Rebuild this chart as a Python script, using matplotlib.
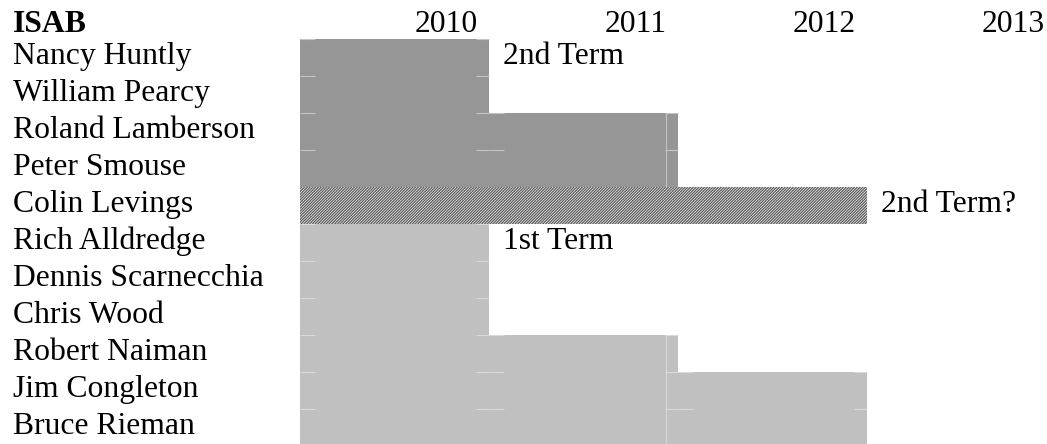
import matplotlib
matplotlib.use("Agg")
import matplotlib.pyplot as plt

plt.rcParams['font.family'] = ['Liberation Serif', 'DejaVu Serif']
plt.rcParams['hatch.linewidth'] = 0.9

title = "ISAB"
years = [2010, 2011, 2012, 2013]
members = ["Nancy Huntly", "William Pearcy", "Roland Lamberson", "Peter Smouse",
           "Colin Levings", "Rich Alldredge", "Dennis Scarnecchia", "Chris Wood",
           "Robert Naiman", "Jim Congleton", "Bruce Rieman"]
term_start = [2010] * 11
term_end = [2011, 2011, 2012, 2012, 2013, 2011, 2011, 2011, 2012, 2013, 2013]
group = ["2nd", "2nd", "2nd", "2nd", "2nd?", "1st", "1st", "1st", "1st", "1st", "1st"]
notes = {0: "2nd Term", 4: "2nd Term?", 5: "1st Term"}

colors = {"2nd": "#969696", "1st": "#C0C0C0"}
seam = {"2nd": "#c4c4c4", "1st": "#dadada"}

W, H = 1047, 444
fig = plt.figure(figsize=(W / 100, H / 100), dpi=100)
ax = fig.add_axes([0, 0, 1, 1])
col_px = 189.0
x0px = 300.0
ax.set_xlim(2010 - x0px / col_px, 2010 + (W - x0px) / col_px)
row_px = 37.0
y0px = 2.0
ax.set_ylim((H - y0px) / row_px, -y0px / row_px)
ax.axis("off")

fs = 22.8
base_off = 25 / row_px     # baseline offset within a row
head_off = 30 / row_px
left_x = 2010 - (x0px - 13) / col_px
px = 1 / col_px

for i, (name, s, e, g) in enumerate(zip(members, term_start, term_end, group)):
    row = i + 1
    if g == "2nd?":
        ax.barh(row + 0.5, e - s, left=s, height=1.0, color="white",
                edgecolor="#555555", hatch="////////////", linewidth=0)
    else:
        ax.barh(row + 0.5, e - s, left=s, height=1.0, color=colors[g], linewidth=0)
        # faint cell-border remnants
        for c in range(s, e):
            ax.plot([c, c + 15 * px], [row, row], color=seam[g], lw=0.8,
                    solid_capstyle="butt")
            ax.plot([c + 1 - 13 * px, c + 1], [row, row], color=seam[g], lw=0.8,
                    solid_capstyle="butt")
        if e >= 2012:
            xv = 2011 + 177 * px
            ax.plot([xv, xv], [row, row + 1], color=seam[g], lw=0.8,
                    solid_capstyle="butt")
    ax.text(left_x, row + base_off, name, fontsize=fs,
            va="baseline", ha="left", color="black")
    if i in notes:
        ax.text(e + 14 * px, row + base_off, notes[i], fontsize=fs,
                va="baseline", ha="left", color="black")

ax.text(left_x, head_off, title, fontsize=fs, fontweight="bold",
        va="baseline", ha="left")
for y in years:
    ax.text(y + 1 - 11 * px, head_off, str(y), fontsize=fs, va="baseline", ha="right")

fig.savefig("out.png", dpi=100)
